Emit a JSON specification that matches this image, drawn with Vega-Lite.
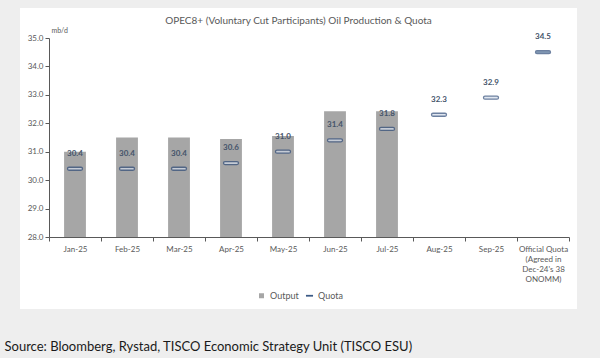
{
  "$schema": "https://vega.github.io/schema/vega-lite/v6.json",
  "width": 557,
  "height": 301,
  "autosize": {"type": "none"},
  "padding": {"left": 20, "top": 8, "right": 23, "bottom": 49},
  "background": "#eeeeee",
  "config": {"view": {"fill": "white", "stroke": null}, "font": "Lato"},
  "title": {
    "text": "OPEC8+ (Voluntary Cut Participants) Oil Production & Quota",
    "fontSize": 10,
    "fontWeight": "normal",
    "color": "#595959",
    "anchor": "middle",
    "frame": "group",
    "offset": -18
  },
  "data": {
    "values": [
      {"month": "Jan-25", "output": 31.0, "quota": 30.4, "official": false},
      {"month": "Feb-25", "output": 31.5, "quota": 30.4, "official": false},
      {"month": "Mar-25", "output": 31.5, "quota": 30.4, "official": false},
      {"month": "Apr-25", "output": 31.45, "quota": 30.6, "official": false},
      {"month": "May-25", "output": 31.55, "quota": 31.0, "official": false},
      {"month": "Jun-25", "output": 32.42, "quota": 31.4, "official": false},
      {"month": "Jul-25", "output": 32.42, "quota": 31.8, "official": false},
      {"month": "Aug-25", "output": null, "quota": 32.3, "official": false},
      {"month": "Sep-25", "output": null, "quota": 32.9, "official": false},
      {"month": "Official Quota|(Agreed in|Dec-24's 38|ONOMM)", "output": null, "quota": 34.5, "official": true}
    ]
  },
  "encoding": {
    "x": {
      "field": "month",
      "type": "nominal",
      "sort": null,
      "scale": {
        "domain": ["Jan-25", "Feb-25", "Mar-25", "Apr-25", "May-25", "Jun-25", "Jul-25", "Aug-25", "Sep-25", "Official Quota|(Agreed in|Dec-24's 38|ONOMM)"],
        "range": [29, 549],
        "paddingInner": 0,
        "paddingOuter": 0
      },
      "axis": {
        "orient": "bottom",
        "offset": -72,
        "labelAngle": 0,
        "labelFontSize": 8,
        "labelColor": "#595959",
        "labelPadding": 4,
        "labelExpr": "isValid(datum.value) ? split(datum.value, '|') : ''",
        "labelLineHeight": 10,
        "tickBand": "extent",
        "tickSize": 4,
        "tickColor": "#595959",
        "domainColor": "#595959",
        "grid": false,
        "title": "Source: Bloomberg, Rystad, TISCO Economic Strategy Unit (TISCO ESU)",
        "titleX": -16,
        "titleY": 109,
        "titleAlign": "left",
        "titleAnchor": "start",
        "titleBaseline": "middle",
        "titleFontSize": 13,
        "titleFontWeight": "normal",
        "titleColor": "#1a1a1a"
      }
    }
  },
  "layer": [
    {
      "transform": [{"filter": "datum.output != null"}],
      "mark": {"type": "bar", "width": {"band": 0.42}},
      "encoding": {
        "y": {
          "field": "output",
          "type": "quantitative",
          "scale": {"domain": [28, 35], "range": [229, 30], "zero": false},
          "axis": {
            "values": [28, 29, 30, 31, 32, 33, 34, 35],
            "format": ".1f",
            "offset": -29,
            "labelFontSize": 8,
            "labelColor": "#595959",
            "labelPadding": 2,
            "tickSize": 4,
            "tickColor": "#595959",
            "domainColor": "#595959",
            "grid": false,
            "title": "mb/d",
            "titleAngle": 0,
            "titleX": 2,
            "titleY": 22,
            "titleAlign": "left",
            "titleBaseline": "middle",
            "titleFontSize": 7,
            "titleFontWeight": "normal",
            "titleColor": "#595959"
          }
        },
        "y2": {"datum": 28},
        "color": {
          "datum": "Output",
          "type": "nominal",
          "scale": {"domain": ["Output", "Quota"], "range": ["#a6a6a6", "#3b5a85"]},
          "legend": {
            "orient": "none",
            "legendX": 237,
            "legendY": 283,
            "direction": "horizontal",
            "title": null,
            "labelFontSize": 9,
            "labelColor": "#595959",
            "columnPadding": 6,
            "symbolSize": 30,
            "encode": {
              "symbols": {
                "update": {
                  "shape": {"signal": "datum.value === 'Quota' ? 'M-1,-0.25H1V0.25H-1Z' : 'square'"},
                  "size": {"signal": "datum.value === 'Quota' ? 50 : 25"}
                }
              }
            }
          }
        }
      }
    },
    {
      "mark": {"type": "tick", "orient": "horizontal", "size": 15, "thickness": 3, "stroke": "#2f4b78", "strokeWidth": 1.3, "cornerRadius": 1.5},
      "encoding": {
        "y": {"field": "quota", "type": "quantitative"},
        "fill": {
          "condition": {"test": "datum.official", "value": "#4a6a92"},
          "value": "#d3dcea"
        }
      }
    },
    {
      "mark": {"type": "text", "dy": -15, "fontSize": 8, "fontWeight": "bold", "color": "#44546a"},
      "encoding": {
        "y": {"field": "quota", "type": "quantitative"},
        "text": {"field": "quota", "type": "quantitative", "format": ".1f"}
      }
    }
  ]
}
